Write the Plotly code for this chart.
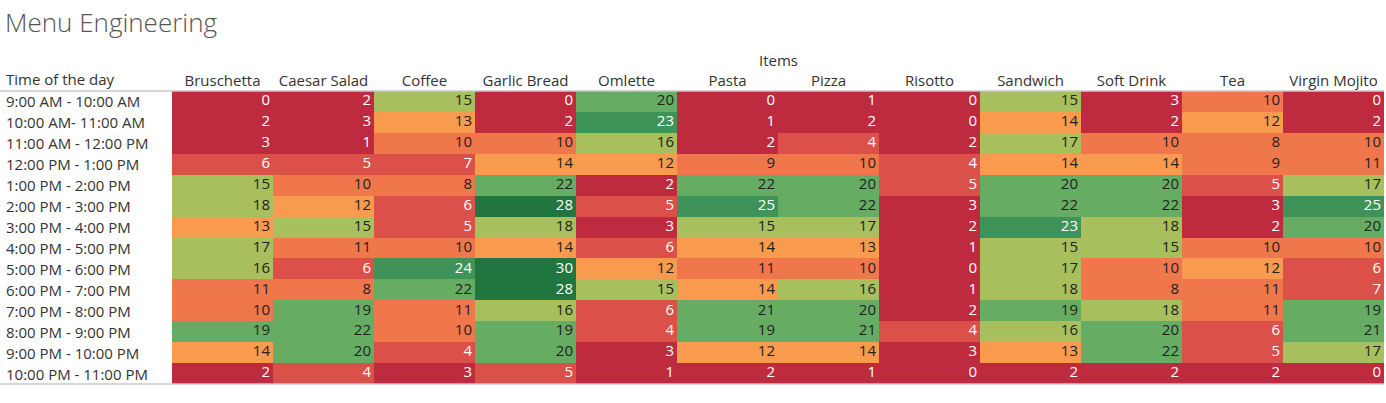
import plotly.graph_objects as go

items = ['Bruschetta', 'Caesar Salad', 'Coffee', 'Garlic Bread', 'Omlette', 'Pasta',
         'Pizza', 'Risotto', 'Sandwich', 'Soft Drink', 'Tea', 'Virgin Mojito']

time_slots = ['9:00 AM - 10:00 AM', '10:00 AM- 11:00 AM', '11:00 AM - 12:00 PM',
              '12:00 PM - 1:00 PM', '1:00 PM - 2:00 PM', '2:00 PM - 3:00 PM',
              '3:00 PM - 4:00 PM', '4:00 PM - 5:00 PM', '5:00 PM - 6:00 PM',
              '6:00 PM - 7:00 PM', '7:00 PM - 8:00 PM', '8:00 PM - 9:00 PM',
              '9:00 PM - 10:00 PM', '10:00 PM - 11:00 PM']

# orders per time slot, one list per row, in item order
counts = [
    [0, 2, 15, 0, 20, 0, 1, 0, 15, 3, 10, 0],
    [2, 3, 13, 2, 23, 1, 2, 0, 14, 2, 12, 2],
    [3, 1, 10, 10, 16, 2, 4, 2, 17, 10, 8, 10],
    [6, 5, 7, 14, 12, 9, 10, 4, 14, 14, 9, 11],
    [15, 10, 8, 22, 2, 22, 20, 5, 20, 20, 5, 17],
    [18, 12, 6, 28, 5, 25, 22, 3, 22, 22, 3, 25],
    [13, 15, 5, 18, 3, 15, 17, 2, 23, 18, 2, 20],
    [17, 11, 10, 14, 6, 14, 13, 1, 15, 15, 10, 10],
    [16, 6, 24, 30, 12, 11, 10, 0, 17, 10, 12, 6],
    [11, 8, 22, 28, 15, 14, 16, 1, 18, 8, 11, 7],
    [10, 19, 11, 16, 6, 21, 20, 2, 19, 18, 11, 19],
    [19, 22, 10, 19, 4, 19, 21, 4, 16, 20, 6, 21],
    [14, 20, 4, 20, 3, 12, 14, 3, 13, 22, 5, 17],
    [2, 4, 3, 5, 1, 2, 1, 0, 2, 2, 2, 0],
]

# stepped red-green palette (8 steps over 0..30)
steps = ['#BE2A3E', '#DB5048', '#EF774B', '#F99B4E', '#A7BF5C', '#66AC63', '#3F9358', '#21763F']
zmin, zmax = 0, 30

colorscale = []
for i, c in enumerate(steps):
    colorscale.append([i / len(steps), c])
    colorscale.append([(i + 1) / len(steps), c])


def text_color(v):
    step = min(int((v - zmin) / (zmax - zmin) * len(steps)), len(steps) - 1)
    return 'white' if step in (0, 1, 6, 7) else '#222222'


fig = go.Figure()
fig.add_trace(go.Heatmap(
    z=counts,
    x=list(range(len(items))),
    y=list(range(len(time_slots))),
    zmin=zmin, zmax=zmax,
    colorscale=colorscale,
    showscale=False,
    hoverinfo='skip',
    xgap=0, ygap=0,
))

# right-aligned cell numbers
tx, ty, tt, tc = [], [], [], []
for r, row in enumerate(counts):
    for c, v in enumerate(row):
        tx.append(c + 0.47)
        ty.append(r)
        tt.append(str(v))
        tc.append(text_color(v))

fig.add_trace(go.Scatter(
    x=tx, y=ty, text=tt, mode='text',
    textposition='middle left',
    textfont=dict(family='Open Sans', size=15, color=tc),
    hoverinfo='skip', showlegend=False,
))

L, R, T, B = 172, 2, 91, 19
W, H = 1386, 403
pw = W - L - R
label_font = dict(family='Open Sans', size=15, color='#333333')

fig.update_xaxes(
    range=[-0.5, len(items) - 0.5],
    side='top',
    tickmode='array',
    tickvals=list(range(len(items))),
    ticktext=items,
    tickfont=label_font,
    ticks='', showgrid=False, zeroline=False, showline=False,
    ticklabelstandoff=1,
)
fig.update_yaxes(
    range=[len(time_slots) - 0.5, -0.5],
    showticklabels=False, showgrid=False, zeroline=False, showline=False, ticks='',
)

annotations = []
for r, label in enumerate(time_slots):
    annotations.append(dict(
        x=0, xref='paper', xshift=-L + 4, xanchor='left',
        y=r, yref='y', yanchor='middle',
        text=label, showarrow=False, font=label_font,
    ))
annotations.append(dict(
    x=0, xref='paper', xshift=-L + 4, xanchor='left',
    y=1, yref='paper', yshift=0, yanchor='bottom',
    text='Time of the day', showarrow=False, font=label_font,
))
annotations.append(dict(
    x=0.5, xref='paper', xanchor='center',
    y=1, yref='paper', yshift=19, yanchor='bottom',
    text='Items', showarrow=False, font=label_font,
))

x_left = -L / pw
fig.update_layout(
    width=W, height=H,
    margin=dict(l=L, r=R, t=T, b=B),
    paper_bgcolor='white', plot_bgcolor='white',
    title=dict(
        text='Menu Engineering',
        x=0, xref='container', xanchor='left',
        y=1 - 14 / H, yref='container', yanchor='top',
        pad=dict(l=5),
        font=dict(family='Open Sans', size=26, color='#555555', weight=300),
    ),
    annotations=annotations,
    shapes=[
        dict(type='line', xref='paper', yref='paper', x0=x_left, x1=1, y0=1, y1=1,
             line=dict(color='#C8C8C8', width=1.5)),
        dict(type='line', xref='paper', yref='paper', x0=x_left, x1=1, y0=0, y1=0,
             line=dict(color='#C8C8C8', width=1.5)),
    ],
)

fig.write_html('out.html', config={'displayModeBar': False},
               post_script="document.body.style.margin='0';")
